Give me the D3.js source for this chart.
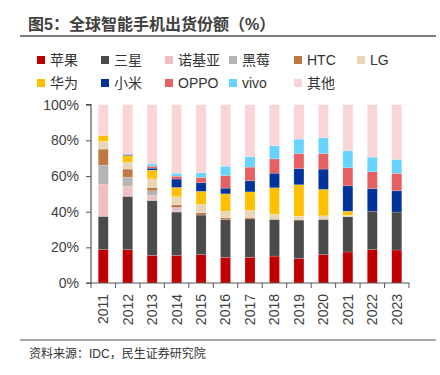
<!DOCTYPE html>
<html>
<head>
<meta charset="utf-8">
<script src="https://cdn.jsdelivr.net/npm/d3@7"></script>
<style>
  body { margin: 0; background: #fff; }
  svg { display: block; }
</style>
</head>
<body>
<script>
var years = ['2011', '2012', '2013', '2014', '2015', '2016', '2017',
             '2018', '2019', '2020', '2021', '2022', '2023'];

var brands = ['苹果', '三星', '诺基亚', '黑莓', 'HTC', 'LG',
              '华为', '小米', 'OPPO', 'vivo', '其他'];

// share of shipments, %
var apple      = [18.7, 18.7, 15.5, 15.5, 15.9, 14.4, 14.4, 15.1, 13.8, 15.9, 17.4, 18.7, 18.5];
var samsung    = [18.7, 29.9, 30.8, 24.3, 22.2, 21.1, 21.6, 20.6, 21.5, 19.8, 19.8, 21.6, 21.3];
var nokia      = [18.1,  5.7,  2.8,  1.8,  0.0,  0.0,  0.0,  0.0,  0.0,  0.0,  0.0,  0.0,  0.0];
var blackberry = [10.6,  5.1,  2.6,  0.8,  0.0,  0.0,  0.0,  0.0,  0.0,  0.0,  0.0,  0.0,  0.0];
var htc        = [ 9.0,  4.5,  1.9,  1.5,  1.3,  1.1,  0.8,  0.0,  0.0,  0.0,  0.0,  0.0,  0.0];
var lg         = [ 4.3,  3.9,  4.8,  4.5,  4.7,  3.7,  3.9,  3.0,  2.2,  2.0,  0.7,  0.0,  0.0];
var huawei     = [ 3.3,  3.7,  4.9,  5.2,  7.3,  9.7, 10.4, 14.7, 17.6, 14.8,  2.4,  0.0,  0.0];
var xiaomi     = [ 0.0,  0.6,  1.1,  4.7,  4.8,  3.2,  6.2,  8.2,  9.1, 11.4, 14.2, 12.7, 11.9];
var oppo       = [ 0.0,  0.0,  1.1,  1.6,  3.0,  7.1,  7.7,  8.0,  8.4,  8.7, 10.1,  9.4,  9.8];
var vivo       = [ 0.0,  0.0,  1.2,  1.7,  2.6,  5.2,  5.8,  7.3,  8.1,  8.8,  9.5,  8.2,  7.8];
var others     = [17.3, 27.9, 33.3, 38.4, 38.2, 34.5, 29.2, 23.1, 19.3, 18.6, 25.9, 29.4, 30.7];

var colors = ['#C00000', '#4B4B4B', '#EDC1C3', '#B4B4B4', '#BE7845', '#E9D6B6',
              '#FFC000', '#00349A', '#E65F61', '#66D4FF', '#F9D5D7'];

var yTicks = [0, 20, 40, 60, 80, 100];

var series = [apple, samsung, nokia, blackberry, htc, lg, huawei, xiaomi, oppo, vivo, others];

var rows = years.map(function(y, i) {
  var r = { year: y };
  brands.forEach(function(b, j) { r[b] = series[j][i]; });
  return r;
});

var W = 440, H = 375;
var FONT = '"Liberation Sans", Arial, "Noto Sans CJK SC", sans-serif';

var svg = d3.select('body').append('svg')
  .attr('width', W)
  .attr('height', H)
  .style('font-family', FONT);

// title + rules
svg.append('text')
  .attr('x', 28)
  .attr('y', 30)
  .attr('font-size', 16)
  .attr('font-weight', 'bold')
  .attr('fill', '#404040')
  .text('图5：全球智能手机出货份额（%）');

svg.append('line')
  .attr('x1', 20).attr('x2', 436)
  .attr('y1', 36).attr('y2', 36)
  .attr('stroke', '#555').attr('stroke-width', 1.5);

svg.append('line')
  .attr('x1', 20).attr('x2', 436)
  .attr('y1', 340).attr('y2', 340)
  .attr('stroke', '#555').attr('stroke-width', 1.2);

svg.append('text')
  .attr('x', 29)
  .attr('y', 358)
  .attr('font-size', 12)
  .attr('fill', '#333')
  .text('资料来源：IDC，民生证券研究院');

// legend
var legX = [37, 101, 165, 229, 294, 357];
var legend = svg.append('g');
var item = legend.selectAll('.leg')
  .data(brands)
  .enter()
  .append('g')
    .attr('transform', function(d, i) {
      return 'translate(' + legX[i % 6] + ',' + (i < 6 ? 60 : 83) + ')';
    });

item.append('rect')
  .attr('x', 0).attr('y', -4)
  .attr('width', 8).attr('height', 8)
  .attr('fill', function(d, i) { return colors[i]; });

item.append('text')
  .attr('x', 13)
  .attr('y', 5)
  .attr('font-size', 14)
  .attr('fill', '#333')
  .text(function(d) { return d; });

// plot
var x0 = 91, x1 = 409, yTop = 104.7, yBot = 283;

var x = d3.scaleBand()
  .domain(years)
  .range([x0, x1])
  .paddingInner(0.59)
  .paddingOuter(0.295);

var y = d3.scaleLinear()
  .domain([0, 100])
  .range([yBot, yTop]);

var stack = d3.stack().keys(brands)(rows);

svg.append('g').selectAll('.layer')
  .data(stack)
  .enter()
  .append('g')
    .attr('fill', function(d, i) { return colors[i]; })
  .selectAll('rect')
  .data(function(d) { return d; })
  .enter()
  .append('rect')
    .attr('x', function(d) { return x(d.data.year); })
    .attr('width', x.bandwidth())
    .attr('y', function(d) { return y(d[1]); })
    .attr('height', function(d) { return Math.max(0, y(d[0]) - y(d[1])); })
    .attr('stroke', '#fff')
    .attr('stroke-opacity', 0.35)
    .attr('stroke-width', 0.5);

// y axis
var yAxis = svg.append('g')
  .attr('transform', 'translate(' + x0 + ',0)')
  .call(d3.axisLeft(y).tickValues(yTicks).tickSize(5).tickPadding(7)
    .tickFormat(function(d) { return d + '%'; }));

// x axis, ticks sit between the bars
var xAxis = svg.append('g')
  .attr('transform', 'translate(0,' + yBot + ')')
  .call(d3.axisBottom(x).tickSize(0).tickPadding(0));

xAxis.selectAll('.tick line').remove();
xAxis.selectAll('.tick text')
  .attr('transform', 'rotate(-90)')
  .attr('text-anchor', 'end')
  .attr('x', -11)
  .attr('y', 0)
  .attr('dy', '0.35em');

var step = x.step();
xAxis.selectAll('.sep')
  .data(d3.range(years.length + 1))
  .enter()
  .append('line')
    .attr('x1', function(d) { return x0 + d * step; })
    .attr('x2', function(d) { return x0 + d * step; })
    .attr('y1', 0).attr('y2', 5)
    .attr('stroke', '#555');

[yAxis, xAxis].forEach(function(a) {
  a.selectAll('.domain').attr('stroke', '#555').attr('stroke-width', 1.2);
  a.selectAll('.tick line').attr('stroke', '#555');
  a.selectAll('text')
    .attr('font-size', 14)
    .attr('font-family', FONT)
    .attr('fill', '#404040');
});
yAxis.select('.domain').attr('d', 'M-5,' + yTop + 'H0V' + yBot + 'H-5');
xAxis.select('.domain').attr('d', 'M' + x0 + ',0H' + x1);
</script>
</body>
</html>
